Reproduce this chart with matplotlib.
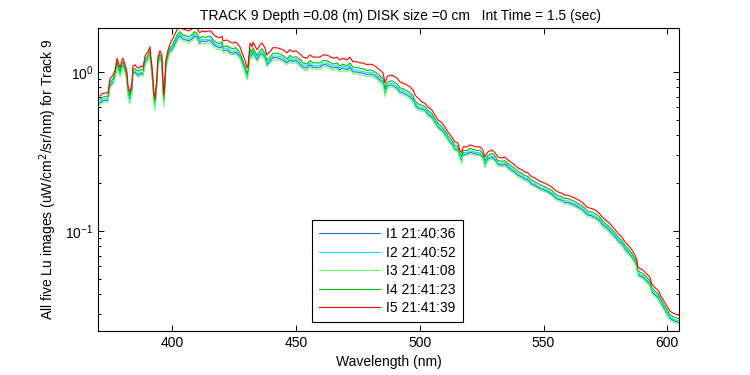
import matplotlib
matplotlib.use("Agg")
import matplotlib.pyplot as plt
from matplotlib.ticker import LogLocator, FixedLocator, NullFormatter

plt.rcParams['font.family'] = ['Liberation Sans', 'DejaVu Sans']

wavelength = [
    370.9, 371.7, 372.9, 374.1, 374.9, 376.2, 377.0, 377.8, 378.2, 379.0,
    379.8, 380.2, 381.0, 381.8, 382.2, 383.0, 383.8, 384.2, 385.0, 385.8,
    386.6, 387.5, 388.3, 389.1, 389.9, 390.3, 391.1, 391.5, 391.9, 392.3,
    392.7, 393.1, 393.5, 393.9, 394.3, 395.1, 395.9, 396.3, 396.7, 397.1,
    397.5, 398.4, 399.2,
    400.0, 400.8, 401.6, 402.4, 403.2, 404.4, 405.6, 406.8, 408.0, 409.1,
    410.1, 411.1, 412.1, 413.3, 414.5, 415.7, 416.9, 418.1, 419.4, 420.2,
    420.6, 422.2, 423.4, 424.6, 425.8, 427.4, 428.6, 429.4, 430.3, 430.7,
    431.5, 432.3, 432.7, 434.3, 435.5, 436.3, 437.5, 438.3, 439.5, 440.7,
    442.4, 443.6, 444.8, 446.4, 447.6, 448.8, 450.0, 451.6, 452.9, 454.5,
    455.7, 456.9, 459.7, 460.9, 462.1, 463.4, 465.0, 466.6, 467.8, 469.0,
    470.6, 471.8, 473.0, 474.7, 475.9, 477.1, 478.7, 479.9, 481.1, 482.7,
    483.9, 485.2, 486.0, 486.8, 487.2, 488.8, 490.0, 490.8, 492.0, 493.2,
    494.8, 496.1, 497.3, 498.1, 499.3,
    500.9, 502.1, 503.3, 504.9, 506.1, 507.4, 509.0, 510.2, 511.4, 513.0,
    514.2, 515.4, 516.2, 517.0, 517.5, 519.1, 520.3, 521.5, 523.1, 524.3,
    525.5, 526.3, 527.5, 529.2, 530.4, 531.6, 533.2, 534.4, 535.6, 537.2,
    538.4, 539.7, 541.3, 542.5, 543.7, 545.3, 546.5, 547.7, 549.3, 550.6,
    551.8, 553.4, 554.6, 555.8, 557.4, 558.6, 559.8, 561.5, 562.7, 563.9,
    565.5, 566.7, 567.9, 569.1, 570.7, 572.4, 574.0, 576.0, 578.0, 580.0,
    581.6, 582.9, 584.1, 585.7, 586.9, 587.7, 588.1, 588.9, 590.1, 591.3,
    592.9, 593.7, 595.0, 596.2, 597.4, 598.6, 599.8, 601.0, 602.2, 603.4,
    604.6,
]

I5 = [
    0.706, 0.727, 0.738, 0.738, 0.904, 0.957, 1.03, 1.22, 1.16, 1.06,
    1.19, 1.22, 1.12, 1.00, 0.817, 0.748, 0.841, 1.09, 1.11, 1.07,
    1.06, 1.09, 1.07, 1.26, 1.32, 1.34, 1.44, 1.22, 1.09, 0.891,
    0.738, 0.686, 0.793, 0.944, 1.24, 1.36, 1.28, 0.891, 0.717, 0.891,
    1.19, 1.38, 1.50,
    1.59, 1.68, 1.79, 1.89, 1.95, 1.86, 1.84, 1.81, 1.86, 1.95,
    1.90, 1.76, 1.81, 1.79, 1.81, 1.81, 1.71, 1.66, 1.64, 1.68,
    1.57, 1.59, 1.54, 1.52, 1.54, 1.44, 1.28, 1.19, 1.06, 1.11,
    1.52, 1.44, 1.54, 1.38, 1.48, 1.52, 1.42, 1.28, 1.34, 1.42,
    1.42, 1.40, 1.38, 1.32, 1.38, 1.34, 1.36, 1.30, 1.24, 1.22,
    1.28, 1.24, 1.24, 1.28, 1.28, 1.26, 1.22, 1.24, 1.19, 1.22,
    1.19, 1.24, 1.16, 1.16, 1.14, 1.14, 1.11, 1.12, 1.11, 1.07,
    1.03, 0.986, 0.853, 0.930, 0.944, 0.957, 0.930, 0.917, 0.865, 0.853,
    0.829, 0.805, 0.770, 0.717, 0.686,
    0.648, 0.638, 0.602, 0.577, 0.537, 0.499, 0.478, 0.451, 0.419, 0.390,
    0.363, 0.358, 0.323, 0.310, 0.338, 0.338, 0.348, 0.343, 0.338, 0.338,
    0.323, 0.292, 0.314, 0.323, 0.310, 0.292, 0.288, 0.292, 0.280, 0.268,
    0.260, 0.249, 0.242, 0.235, 0.232, 0.219, 0.216, 0.209, 0.203, 0.200,
    0.195, 0.189, 0.181, 0.176, 0.173, 0.168, 0.168, 0.164, 0.161, 0.157,
    0.152, 0.146, 0.140, 0.139, 0.136, 0.130, 0.121, 0.114, 0.106, 0.0971,
    0.0917, 0.0853, 0.0816, 0.0760, 0.0707, 0.0658, 0.0594, 0.0580, 0.0569, 0.0544,
    0.0514, 0.0464, 0.0440, 0.0425, 0.0390, 0.0363, 0.0337, 0.0314, 0.0305, 0.0300,
    0.0296,
]

I4 = [
    0.671, 0.691, 0.701, 0.705, 0.859, 0.909, 0.979, 1.16, 1.10, 1.01,
    1.13, 1.16, 1.06, 0.950, 0.776, 0.711, 0.799, 1.04, 1.05, 1.02,
    1.01, 1.04, 1.02, 1.20, 1.25, 1.27, 1.37, 1.16, 1.04, 0.846,
    0.701, 0.652, 0.753, 0.897, 1.18, 1.29, 1.22, 0.846, 0.681, 0.846,
    1.13, 1.31, 1.43,
    1.46, 1.55, 1.65, 1.74, 1.79, 1.71, 1.69, 1.67, 1.71, 1.79,
    1.75, 1.62, 1.67, 1.65, 1.67, 1.67, 1.57, 1.53, 1.51, 1.55,
    1.44, 1.46, 1.42, 1.40, 1.42, 1.32, 1.18, 1.09, 0.975, 1.02,
    1.40, 1.32, 1.42, 1.27, 1.36, 1.40, 1.31, 1.18, 1.23, 1.31,
    1.31, 1.29, 1.27, 1.21, 1.27, 1.23, 1.25, 1.20, 1.14, 1.12,
    1.18, 1.14, 1.14, 1.18, 1.18, 1.16, 1.12, 1.14, 1.09, 1.12,
    1.09, 1.14, 1.07, 1.07, 1.05, 1.05, 1.02, 1.03, 1.02, 0.984,
    0.948, 0.907, 0.785, 0.856, 0.868, 0.880, 0.856, 0.844, 0.796, 0.785,
    0.763, 0.741, 0.708, 0.660, 0.631,
    0.616, 0.606, 0.572, 0.548, 0.510, 0.474, 0.454, 0.428, 0.398, 0.371,
    0.345, 0.340, 0.307, 0.295, 0.321, 0.321, 0.331, 0.326, 0.321, 0.321,
    0.307, 0.277, 0.298, 0.307, 0.295, 0.277, 0.274, 0.277, 0.266, 0.255,
    0.247, 0.237, 0.230, 0.223, 0.220, 0.208, 0.205, 0.199, 0.193, 0.190,
    0.185, 0.180, 0.172, 0.167, 0.164, 0.160, 0.160, 0.156, 0.153, 0.149,
    0.144, 0.139, 0.133, 0.132, 0.129, 0.124, 0.115, 0.108, 0.101, 0.0922,
    0.0871, 0.0810, 0.0775, 0.0722, 0.0672, 0.0625, 0.0564, 0.0551, 0.0541, 0.0517,
    0.0488, 0.0441, 0.0418, 0.0404, 0.0371, 0.0345, 0.0320, 0.0298, 0.0290, 0.0285,
    0.0281,
]

I2 = [
    0.650, 0.669, 0.679, 0.675, 0.832, 0.880, 0.948, 1.12, 1.07, 0.975,
    1.09, 1.12, 1.03, 0.920, 0.752, 0.688, 0.774, 1.00, 1.02, 0.984,
    0.975, 1.00, 0.984, 1.16, 1.21, 1.23, 1.32, 1.12, 1.00, 0.820,
    0.679, 0.631, 0.730, 0.868, 1.14, 1.25, 1.18, 0.820, 0.660, 0.820,
    1.09, 1.27, 1.38,
    1.42, 1.50, 1.59, 1.68, 1.74, 1.66, 1.64, 1.61, 1.66, 1.74,
    1.69, 1.57, 1.61, 1.59, 1.61, 1.61, 1.52, 1.48, 1.46, 1.50,
    1.40, 1.42, 1.37, 1.35, 1.37, 1.28, 1.14, 1.06, 0.943, 0.988,
    1.35, 1.28, 1.37, 1.23, 1.32, 1.35, 1.26, 1.14, 1.19, 1.26,
    1.26, 1.25, 1.23, 1.17, 1.23, 1.19, 1.21, 1.16, 1.10, 1.09,
    1.14, 1.10, 1.10, 1.14, 1.14, 1.12, 1.09, 1.10, 1.06, 1.09,
    1.06, 1.10, 1.03, 1.03, 1.01, 1.01, 0.988, 0.997, 0.988, 0.952,
    0.917, 0.878, 0.759, 0.828, 0.840, 0.852, 0.828, 0.816, 0.770, 0.759,
    0.738, 0.716, 0.685, 0.638, 0.611,
    0.596, 0.587, 0.554, 0.531, 0.494, 0.459, 0.440, 0.415, 0.385, 0.359,
    0.334, 0.329, 0.297, 0.285, 0.311, 0.311, 0.320, 0.316, 0.311, 0.311,
    0.297, 0.269, 0.289, 0.297, 0.285, 0.269, 0.265, 0.269, 0.258, 0.247,
    0.239, 0.229, 0.223, 0.216, 0.213, 0.201, 0.199, 0.192, 0.187, 0.184,
    0.179, 0.174, 0.167, 0.162, 0.159, 0.155, 0.155, 0.151, 0.148, 0.144,
    0.140, 0.134, 0.129, 0.128, 0.125, 0.120, 0.111, 0.105, 0.0975, 0.0893,
    0.0844, 0.0785, 0.0751, 0.0699, 0.0650, 0.0605, 0.0546, 0.0534, 0.0523, 0.0500,
    0.0473, 0.0427, 0.0405, 0.0391, 0.0359, 0.0334, 0.0310, 0.0289, 0.0281, 0.0276,
    0.0272,
]

I1 = [
    0.635, 0.654, 0.664, 0.660, 0.814, 0.861, 0.927, 1.10, 1.04, 0.954,
    1.07, 1.10, 1.01, 0.900, 0.735, 0.673, 0.757, 0.981, 0.999, 0.963,
    0.954, 0.981, 0.963, 1.13, 1.19, 1.21, 1.30, 1.10, 0.981, 0.802,
    0.664, 0.617, 0.714, 0.850, 1.12, 1.22, 1.15, 0.802, 0.645, 0.802,
    1.07, 1.24, 1.35,
    1.38, 1.45, 1.55, 1.63, 1.69, 1.61, 1.59, 1.57, 1.61, 1.69,
    1.64, 1.52, 1.57, 1.55, 1.57, 1.57, 1.48, 1.44, 1.42, 1.45,
    1.36, 1.38, 1.33, 1.31, 1.33, 1.25, 1.11, 1.03, 0.917, 0.960,
    1.31, 1.25, 1.33, 1.19, 1.28, 1.31, 1.23, 1.11, 1.16, 1.23,
    1.23, 1.21, 1.19, 1.14, 1.19, 1.16, 1.18, 1.12, 1.07, 1.06,
    1.11, 1.07, 1.07, 1.11, 1.11, 1.09, 1.06, 1.07, 1.03, 1.06,
    1.03, 1.07, 1.00, 1.00, 0.986, 0.986, 0.960, 0.969, 0.960, 0.926,
    0.891, 0.853, 0.738, 0.804, 0.817, 0.828, 0.804, 0.793, 0.748, 0.738,
    0.717, 0.696, 0.666, 0.620, 0.593,
    0.583, 0.574, 0.542, 0.519, 0.483, 0.449, 0.430, 0.406, 0.377, 0.351,
    0.327, 0.322, 0.291, 0.279, 0.304, 0.304, 0.313, 0.309, 0.304, 0.304,
    0.291, 0.263, 0.283, 0.291, 0.279, 0.263, 0.259, 0.263, 0.252, 0.241,
    0.234, 0.224, 0.218, 0.212, 0.209, 0.197, 0.194, 0.188, 0.183, 0.180,
    0.176, 0.170, 0.163, 0.158, 0.156, 0.151, 0.151, 0.148, 0.145, 0.141,
    0.137, 0.131, 0.126, 0.125, 0.122, 0.117, 0.109, 0.103, 0.0954, 0.0874,
    0.0825, 0.0768, 0.0734, 0.0684, 0.0636, 0.0592, 0.0535, 0.0522, 0.0512, 0.0490,
    0.0463, 0.0418, 0.0396, 0.0383, 0.0351, 0.0327, 0.0303, 0.0283, 0.0275, 0.0270,
    0.0266,
]

I3 = [
    0.621, 0.640, 0.649, 0.645, 0.796, 0.842, 0.906, 1.07, 1.02, 0.933,
    1.05, 1.07, 0.986, 0.880, 0.686, 0.628, 0.740, 0.959, 0.977, 0.942,
    0.933, 0.959, 0.942, 1.11, 1.16, 1.18, 1.27, 1.07, 0.959, 0.784,
    0.620, 0.576, 0.698, 0.831, 1.09, 1.20, 1.13, 0.784, 0.602, 0.784,
    1.05, 1.21, 1.32,
    1.34, 1.41, 1.50, 1.59, 1.64, 1.56, 1.55, 1.52, 1.56, 1.64,
    1.60, 1.48, 1.52, 1.50, 1.52, 1.52, 1.44, 1.39, 1.38, 1.41,
    1.32, 1.34, 1.29, 1.28, 1.29, 1.21, 1.08, 1.00, 0.890, 0.932,
    1.28, 1.21, 1.29, 1.16, 1.24, 1.28, 1.19, 1.08, 1.13, 1.19,
    1.19, 1.18, 1.16, 1.11, 1.16, 1.13, 1.14, 1.09, 1.04, 1.02,
    1.08, 1.04, 1.04, 1.08, 1.08, 1.06, 1.02, 1.04, 1.00, 1.02,
    1.00, 1.04, 0.974, 0.974, 0.958, 0.958, 0.932, 0.941, 0.932, 0.899,
    0.865, 0.828, 0.700, 0.781, 0.793, 0.804, 0.781, 0.770, 0.727, 0.717,
    0.696, 0.676, 0.647, 0.602, 0.576,
    0.570, 0.561, 0.530, 0.508, 0.473, 0.439, 0.421, 0.397, 0.369, 0.343,
    0.319, 0.315, 0.284, 0.265, 0.297, 0.297, 0.306, 0.302, 0.297, 0.297,
    0.284, 0.250, 0.276, 0.284, 0.273, 0.257, 0.253, 0.257, 0.246, 0.236,
    0.229, 0.219, 0.213, 0.207, 0.204, 0.193, 0.190, 0.184, 0.179, 0.176,
    0.172, 0.166, 0.159, 0.155, 0.152, 0.148, 0.148, 0.144, 0.142, 0.138,
    0.134, 0.128, 0.123, 0.122, 0.120, 0.114, 0.106, 0.100, 0.0933, 0.0854,
    0.0807, 0.0751, 0.0718, 0.0669, 0.0622, 0.0579, 0.0523, 0.0510, 0.0501, 0.0479,
    0.0452, 0.0408, 0.0387, 0.0374, 0.0343, 0.0319, 0.0297, 0.0276, 0.0268, 0.0264,
    0.0260,
]

labels = ['I1 21:40:36', 'I2 21:40:52', 'I3 21:41:08', 'I4 21:41:23', 'I5 21:41:39']
colors = ['#1a6fd8', '#00e6f2', '#66ff66', '#00c000', '#ff0000']
xticks = [400, 450, 500, 550, 600]

fig = plt.figure(figsize=(7.5, 3.75), dpi=100)
ax = fig.add_axes([98/750, 1 - 331/375, 581/750, 303/375])

for vals, lab, col in zip([I1, I2, I3, I4, I5], labels, colors):
    ax.plot(wavelength, vals, color=col, lw=0.8, label=lab)

ax.set_yscale('log')
ax.set_xlim(370.1, 604.7)
ax.set_ylim(0.0235, 1.89)
ax.xaxis.set_major_locator(FixedLocator(xticks))
ax.yaxis.set_major_locator(LogLocator(base=10, numticks=10))
ax.yaxis.set_minor_locator(LogLocator(base=10, subs=range(2, 10), numticks=20))
ax.yaxis.set_minor_formatter(NullFormatter())

ax.tick_params(which='both', direction='in', top=True, right=True, labelsize=10, width=0.7)
ax.tick_params(which='major', length=4)
ax.tick_params(which='minor', length=2.5)
for s in ax.spines.values():
    s.set_linewidth(0.8)

ax.set_title('TRACK 9 Depth =0.08 (m) DISK size =0 cm   Int Time = 1.5 (sec)',
             fontsize=10, pad=6, x=0.52)
ax.set_xlabel('Wavelength (nm)', fontsize=10)
ax.set_ylabel('All five Lu images (uW/cm$^2$/sr/nm) for Track 9', fontsize=10)

leg = ax.legend(loc='lower left', bbox_to_anchor=(0.368, 0.03), fontsize=10,
                frameon=True, fancybox=False, edgecolor='black', framealpha=1,
                handlelength=4.4, handletextpad=0.45, labelspacing=0.32,
                borderpad=0.5, borderaxespad=0)
leg.get_frame().set_linewidth(0.8)

fig.savefig('out.png', dpi=100)
